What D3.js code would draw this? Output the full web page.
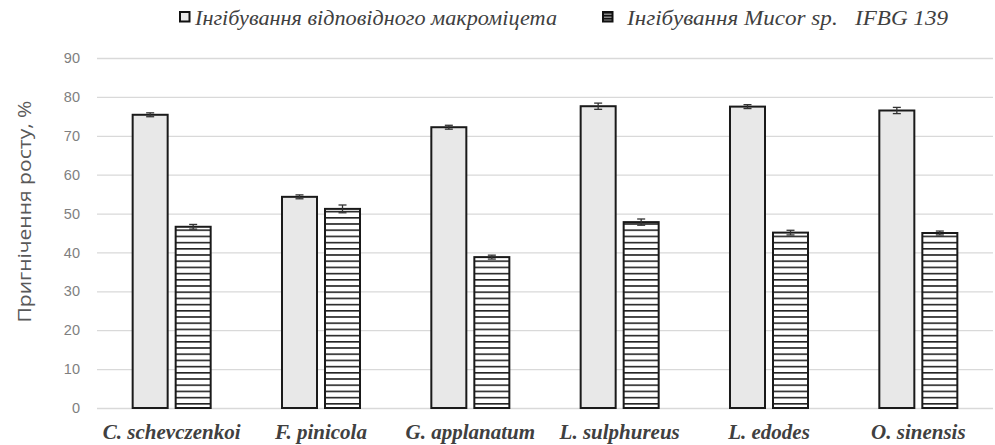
<!DOCTYPE html>
<html>
<head>
<meta charset="utf-8">
<script src="https://cdn.jsdelivr.net/npm/d3@7"></script>
<style>
  body { margin: 0; background: #fff; }
  svg { display: block; }
</style>
</head>
<body>
<svg width="995" height="445"></svg>
<script>
// values
const categories = ['C. schevczenkoi', 'F. pinicola', 'G. applanatum', 'L. sulphureus', 'L. edodes', 'O. sinensis'];
const seriesNames = ['Інгібування відповідного макроміцета', 'Інгібування Mucor sp.   IFBG 139'];
const ownValues = [75.4, 54.3, 72.2, 77.6, 77.5, 76.5];
const ownErrors = [0.5, 0.5, 0.5, 0.8, 0.5, 0.8];
const mucorValues = [46.6, 51.2, 38.8, 47.8, 45.1, 45.0];
const mucorErrors = [0.6, 1.0, 0.5, 0.8, 0.6, 0.5];
const yTicks = [0, 10, 20, 30, 40, 50, 60, 70, 80, 90];

const svg = d3.select('svg');
const plotLeft = 97, plotRight = 993, plotTop = 58, plotBottom = 408;

const y = d3.scaleLinear().domain([0, 90]).range([plotBottom, plotTop]);
const x0 = d3.scaleBand().domain(categories).range([plotLeft, plotRight])
  .paddingInner(0.4776).paddingOuter(0.2388);
const x1 = d3.scaleBand().domain([0, 1]).range([0, x0.bandwidth()]).paddingInner(0.186);

// hatch pattern
const defs = svg.append('defs');
defs.append('pattern').attr('id', 'hatch')
  .attr('patternUnits', 'userSpaceOnUse').attr('width', 8).attr('height', 6.2)
  .call(p => {
    p.append('rect').attr('width', 8).attr('height', 6.2).attr('fill', '#fff');
    p.append('rect').attr('y', 0).attr('width', 8).attr('height', 1.6).attr('fill', '#222');
  });
defs.append('pattern').attr('id', 'hatchSmall')
  .attr('patternUnits', 'userSpaceOnUse').attr('width', 4).attr('height', 3)
  .call(p => {
    p.append('rect').attr('width', 4).attr('height', 3).attr('fill', '#888');
    p.append('rect').attr('width', 4).attr('height', 1.5).attr('fill', '#111');
  });

// grid
svg.append('g').selectAll('line').data(yTicks).join('line')
  .attr('x1', plotLeft).attr('x2', plotRight)
  .attr('y1', d => y(d) + 0.5).attr('y2', d => y(d) + 0.5)
  .attr('stroke', '#d9d9d9').attr('stroke-width', 1.3);

// y axis
const yAxis = svg.append('g').attr('transform', `translate(${plotLeft},0)`)
  .call(d3.axisLeft(y).tickValues(yTicks).tickSize(0).tickPadding(17));
yAxis.select('.domain').remove();
yAxis.selectAll('text')
  .attr('fill', '#7f7f7f').style('font-family', '"Liberation Sans", Arial, sans-serif')
  .style('font-size', '14.5px');

svg.append('text')
  .attr('transform', 'translate(31,211.5) rotate(-90)')
  .attr('text-anchor', 'middle')
  .attr('fill', '#595959')
  .attr('textLength', 222).attr('lengthAdjust', 'spacingAndGlyphs')
  .style('font-family', '"Open Sans", "Liberation Sans", sans-serif')
  .style('font-size', '18px')
  .text('Пригнічення росту, %');

// bars
const series = [
  { values: ownValues, errors: ownErrors, fill: '#e8e8e8' },
  { values: mucorValues, errors: mucorErrors, fill: 'url(#hatch)' }
];

series.forEach((s, si) => {
  const g = svg.append('g');
  g.selectAll('rect').data(categories).join('rect')
    .attr('x', d => x0(d) + x1(si))
    .attr('y', (d, i) => y(s.values[i]))
    .attr('width', x1.bandwidth())
    .attr('height', (d, i) => y(0) - y(s.values[i]))
    .attr('fill', s.fill)
    .attr('stroke', '#1a1a1a').attr('stroke-width', 2);

  const eb = svg.append('g').attr('stroke', '#333').attr('stroke-width', 1.3);
  categories.forEach((c, i) => {
    const cx = x0(c) + x1(si) + x1.bandwidth() / 2;
    const hi = y(s.values[i] + s.errors[i]), lo = y(s.values[i] - s.errors[i]);
    eb.append('line').attr('x1', cx).attr('x2', cx).attr('y1', hi).attr('y2', lo);
    eb.append('line').attr('x1', cx - 4).attr('x2', cx + 4).attr('y1', hi).attr('y2', hi);
    eb.append('line').attr('x1', cx - 4).attr('x2', cx + 4).attr('y1', lo).attr('y2', lo);
  });
});

// category labels
const xAxis = svg.append('g').attr('transform', `translate(0,${plotBottom})`)
  .call(d3.axisBottom(x0).tickSize(0).tickPadding(16));
xAxis.select('.domain').remove();
xAxis.selectAll('text')
  .attr('fill', '#404040')
  .style('font-family', '"Liberation Serif", "Times New Roman", serif')
  .style('font-style', 'italic').style('font-weight', 'bold')
  .style('font-size', '21px');

// legend
const legendX = [179, 602];
const legendTextX = [16, 25];
const legendTextLen = [362, 321];
const legendFills = ['#e8e8e8', 'url(#hatchSmall)'];
seriesNames.forEach((name, i) => {
  const g = svg.append('g').attr('transform', `translate(${legendX[i]},0)`);
  g.append('rect').attr('x', 1).attr('y', 12).attr('width', 9.5).attr('height', 9.5)
    .attr('fill', legendFills[i]).attr('stroke', '#111').attr('stroke-width', 2);
  g.append('text').attr('x', legendTextX[i]).attr('y', 25)
    .attr('fill', '#404040')
    .attr('textLength', legendTextLen[i]).attr('lengthAdjust', 'spacingAndGlyphs')
    .style('font-family', '"Liberation Serif", "Times New Roman", serif')
    .style('font-style', 'italic')
    .style('font-size', '21px')
    .style('white-space', 'pre')
    .text(name);
});
</script>
</body>
</html>
